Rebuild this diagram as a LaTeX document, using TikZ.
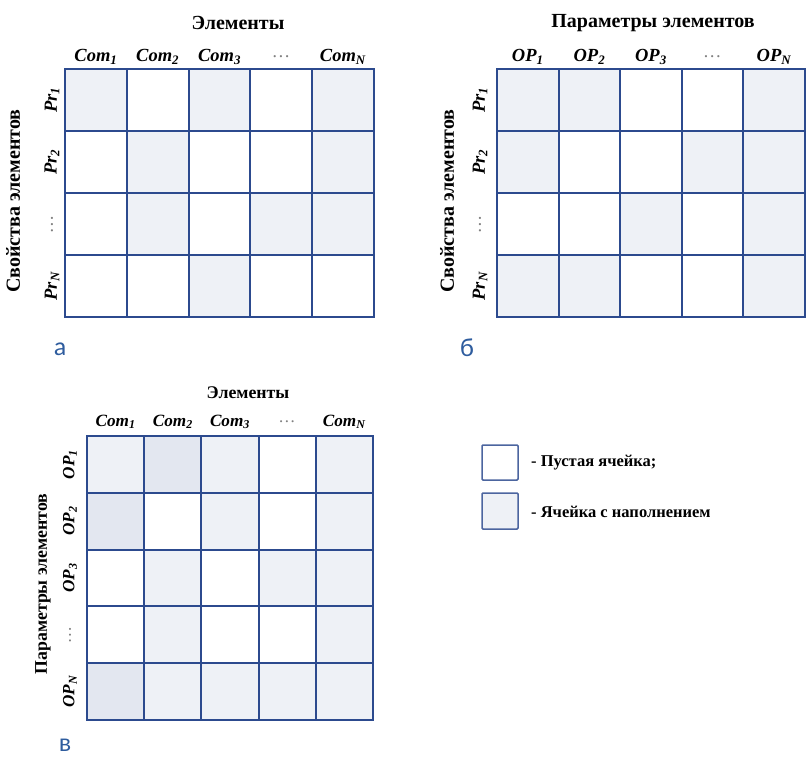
\documentclass[tikz,border=0pt]{standalone}
\usepackage{fontspec}
\setmainfont{Liberation Serif}
\newfontfamily\lettersf{Carlito}
\definecolor{gridblue}{HTML}{2C4A8E}
\definecolor{cellfill}{HTML}{EEF1F6}
\definecolor{celldark}{HTML}{E3E7F0}
\definecolor{letblue}{HTML}{2E5C9E}
\newcommand{\lbl}[2]{\textbf{\textit{#1}\textsubscript{\textit{#2}}}}
\newcommand{\dts}{\textcolor{gray}{\textit{\dots}}}
\tikzset{
  gline/.style={draw=gridblue, line width=2pt, line cap=rect},
  lfill/.style={fill=cellfill},
  dfill/.style={fill=celldark},
  hdrA/.style={font=\fontsize{20}{23}\selectfont\bfseries, inner sep=0pt},
  colA/.style={font=\fontsize{18.5}{21}\selectfont, inner sep=0pt},
  hdrC/.style={font=\fontsize{17.8}{20}\selectfont\bfseries, inner sep=0pt},
  colC/.style={font=\fontsize{17.2}{20}\selectfont, inner sep=0pt},
  letter/.style={font=\lettersf\fontsize{26}{28}\selectfont, text=letblue, inner sep=0pt, text depth=0pt, anchor=base},
  legtext/.style={font=\fontsize{16.5}{19}\selectfont\bfseries, inner sep=0pt, anchor=west},
  legbox/.style={draw=gridblue!85, line width=1.5pt, rounded corners=1pt}
}
\begin{document}
\begin{tikzpicture}[x=1pt,y=-1pt]
\useasboundingbox (0,0) rectangle (806,756);
% ---------- grid a ----------
\foreach \c/\r in {1/1,3/1,5/1,2/2,5/2,2/3,4/3,5/3,3/4}
  \fill[lfill] ({65+(\c-1)*61.8},{69+(\r-1)*62}) rectangle ++(61.8,62);
\foreach \i in {0,...,5} \draw[gline] ({65+\i*61.8},69) -- ({65+\i*61.8},317);
\foreach \j in {0,...,4} \draw[gline] (65,{69+\j*62}) -- (374,{69+\j*62});
\node[hdrA] (ta) at (238,23) {Элементы};
\node[colA] (a1) at ({65+0.5*61.8},57) {\lbl{Com}{1}};
\node[colA] (a2) at ({65+1.5*61.8},57) {\lbl{Com}{2}};
\node[colA] (a3) at ({65+2.5*61.8},57) {\lbl{Com}{3}};
\node[colA] (a4) at ({65+3.5*61.8},57) {\dts};
\node[colA] (a5) at ({65+4.5*61.8},57) {\lbl{Com}{N}};
\node[colA,rotate=90] (ar1) at (52,100) {\lbl{Pr}{1}};
\node[colA,rotate=90] (ar2) at (52,162) {\lbl{Pr}{2}};
\node[colA,rotate=90] (ar3) at (52,224) {\dts};
\node[colA,rotate=90] (ar4) at (52,286) {\lbl{Pr}{N}};
\node[hdrA,rotate=90] (ya) at (13,201) {Свойства элементов};
\node[letter] (la) at (60,355) {а};
% ---------- grid b ----------
\foreach \c/\r in {1/1,2/1,5/1,1/2,4/2,5/2,3/3,5/3,1/4,2/4,5/4}
  \fill[lfill] ({497+(\c-1)*61.6},{69+(\r-1)*62}) rectangle ++(61.6,62);
\foreach \i in {0,...,5} \draw[gline] ({497+\i*61.6},69) -- ({497+\i*61.6},317);
\foreach \j in {0,...,4} \draw[gline] (497,{69+\j*62}) -- (805,{69+\j*62});
\node[hdrA] (tb) at (653,23) {Параметры элементов};
\node[colA] (b1) at ({497+0.5*61.6},57) {\lbl{OP}{1}};
\node[colA] (b2) at ({497+1.5*61.6},57) {\lbl{OP}{2}};
\node[colA] (b3) at ({497+2.5*61.6},57) {\lbl{OP}{3}};
\node[colA] (b4) at ({497+3.5*61.6},57) {\dts};
\node[colA] (b5) at ({497+4.5*61.6},57) {\lbl{OP}{N}};
\node[colA,rotate=90] (br1) at (480,100) {\lbl{Pr}{1}};
\node[colA,rotate=90] (br2) at (480,162) {\lbl{Pr}{2}};
\node[colA,rotate=90] (br3) at (480,224) {\dts};
\node[colA,rotate=90] (br4) at (480,286) {\lbl{Pr}{N}};
\node[hdrA,rotate=90] (yb) at (447,201) {Свойства элементов};
\node[letter] (lb) at (467,356) {б};
% ---------- grid c ----------
\foreach \c/\r in {1/1,3/1,5/1,3/2,5/2,2/3,4/3,5/3,2/4,5/4,2/5,3/5,4/5,5/5}
  \fill[lfill] ({87+(\c-1)*57.2},{436+(\r-1)*56.8}) rectangle ++(57.2,56.8);
\foreach \c/\r in {2/1,1/2,1/5}
  \fill[dfill] ({87+(\c-1)*57.2},{436+(\r-1)*56.8}) rectangle ++(57.2,56.8);
\foreach \i in {0,...,5} \draw[gline] ({87+\i*57.2},436) -- ({87+\i*57.2},720);
\foreach \j in {0,...,5} \draw[gline] (87,{436+\j*56.8}) -- (373,{436+\j*56.8});
\node[hdrC] (tc) at (248,393) {Элементы};
\node[colC] (c1) at ({87+0.5*57.2},422) {\lbl{Com}{1}};
\node[colC] (c2) at ({87+1.5*57.2},422) {\lbl{Com}{2}};
\node[colC] (c3) at ({87+2.5*57.2},422) {\lbl{Com}{3}};
\node[colC] (c4) at ({87+3.5*57.2},422) {\dts};
\node[colC] (c5) at ({87+4.5*57.2},422) {\lbl{Com}{N}};
\node[colC,rotate=90] (cr1) at (70,{436+0.5*56.8}) {\lbl{OP}{1}};
\node[colC,rotate=90] (cr2) at (70,{436+1.5*56.8}) {\lbl{OP}{2}};
\node[colC,rotate=90] (cr3) at (70,{436+2.5*56.8}) {\lbl{OP}{3}};
\node[colC,rotate=90] (cr4) at (70,{436+3.5*56.8}) {\dts};
\node[colC,rotate=90] (cr5) at (70,{436+4.5*56.8}) {\lbl{OP}{N}};
\node[hdrC,rotate=90] (yc) at (43,584) {Параметры элементов};
\node[letter] (lc) at (65,751) {в};
% ---------- legend ----------
\draw[legbox, fill=white] (482,445) rectangle (518,480);
\draw[legbox, fill=cellfill] (482,493) rectangle (518,529);
\node[legtext] (le1) at (531,463) {- Пустая ячейка;};
\node[legtext] (le2) at (531,512) {- Ячейка с наполнением};
\end{tikzpicture}
\end{document}
